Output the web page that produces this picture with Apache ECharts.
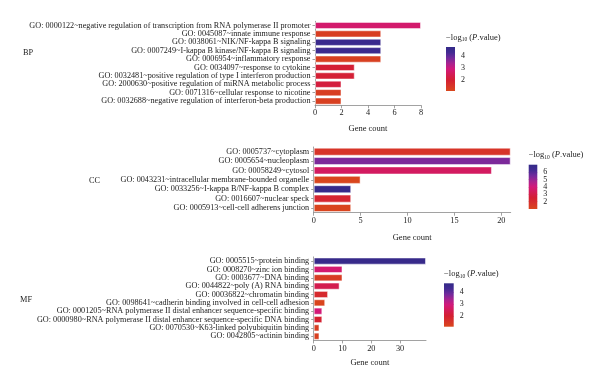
<!DOCTYPE html>
<html>
<head>
<meta charset="utf-8">
<style>html,body{margin:0;padding:0;background:#fff;}#c{width:600px;height:386px;}</style>
<script src="https://cdn.jsdelivr.net/npm/echarts@6/dist/echarts.min.js"></script>
</head>
<body>
<div id="c"></div>
<script>
const bpTerms = [
  'GO: 0000122~negative regulation of transcription from RNA polymerase II promoter',
  'GO: 0045087~innate immune response',
  'GO: 0038061~NIK/NF-kappa B signaling',
  'GO: 0007249~I-kappa B kinase/NF-kappa B signaling',
  'GO: 0006954~inflammatory response',
  'GO: 0034097~response to cytokine',
  'GO: 0032481~positive regulation of type I interferon production',
  'GO: 2000630~positive regulation of miRNA metabolic process',
  'GO: 0071316~cellular response to nicotine',
  'GO: 0032688~negative regulation of interferon-beta production'
];
const bpCounts = [8, 5, 5, 5, 5, 3, 3, 2, 2, 2];
const bpLogP = [2.75, 1.3, 4.55, 4.5, 1.25, 2.05, 2.05, 2.15, 1.3, 1.25];

const ccTerms = [
  'GO: 0005737~cytoplasm',
  'GO: 0005654~nucleoplasm',
  'GO: 00058249~cytosol',
  'GO: 0043231~intracellular membrane-bounded organelle',
  'GO: 0033256~I-kappa B/NF-kappa B complex',
  'GO: 0016607~nuclear speck',
  'GO: 0005913~cell-cell adherens junction'
];
const ccCounts = [21, 21, 19, 5, 4, 4, 4];
const ccLogP = [1.7, 5.4, 3.5, 1.05, 6.9, 2.3, 1.1];

const mfTerms = [
  'GO: 0005515~protein binding',
  'GO: 0008270~zinc ion binding',
  'GO: 0003677~DNA binding',
  'GO: 0044822~poly (A) RNA binding',
  'GO: 00036822~chromatin binding',
  'GO: 0098641~cadherin binding involved in cell-cell adhesion',
  'GO: 0001205~RNA polymerase II distal enhancer sequence-specific binding',
  'GO: 0000980~RNA polymerase II distal enhancer sequence-specific DNA binding',
  'GO: 0070530~K63-linked polyubiquitin binding',
  'GO: 0042805~actinin binding'
];
const mfCounts = [39, 10, 10, 9, 5, 4, 3, 3, 2, 2];
const mfLogP = [4.6, 2.8, 1.4, 2.4, 1.8, 1.2, 2.9, 2.0, 1.35, 1.3];

const bpTicks = [0, 2, 4, 6, 8];
const ccTicks = [0, 5, 10, 15, 20];
const mfTicks = [0, 10, 20, 30];
const bpLegendTicks = [2, 3, 4];
const ccLegendTicks = [2, 3, 4, 5, 6];
const mfLegendTicks = [2, 3, 4];

const palette = ['#d9471c', '#d7332a', '#d41f32', '#d31c55', '#d3197a', '#a8238f', '#722a9c', '#432b93', '#332a88'];

const FONT = 'Liberation Serif';
const panels = [
  {name: 'BP', terms: bpTerms, counts: bpCounts, logp: bpLogP, ticks: bpTicks, max: 8, gap: 19,
   grid: {left: 315, top: 21.3, width: 106, height: 84}, labelPos: [23, 49],
   lg: {left: 446, top: 47, width: 9, height: 44}, lo: 1.1, hi: 4.75, lticks: bpLegendTicks},
  {name: 'CC', terms: ccTerms, counts: ccCounts, logp: ccLogP, ticks: ccTicks, max: 21, gap: 20.5,
   grid: {left: 313.7, top: 147, width: 197, height: 65.7}, labelPos: [89, 177],
   lg: {left: 528.7, top: 164.7, width: 8.6, height: 44.3}, lo: 1.0, hi: 7.05, lticks: ccLegendTicks},
  {name: 'MF', terms: mfTerms, counts: mfCounts, logp: mfLogP, ticks: mfTicks, max: 39, gap: 18,
   grid: {left: 313.7, top: 256.9, width: 112.3, height: 83.5}, labelPos: [20, 296],
   lg: {left: 444, top: 283.3, width: 9.7, height: 43.4}, lo: 1.15, hi: 4.7, lticks: mfLegendTicks}
];

const axisGray = '#8a8a8a';
const grids = [], xAxes = [], yAxes = [], series = [], visualMaps = [], graphics = [];
const gradStops = palette.map((c, i) => ({offset: 1 - i / (palette.length - 1), color: c}));

panels.forEach((p, k) => {
  grids.push(p.grid);
  xAxes.push({
    type: 'value', gridIndex: k, min: 0, max: p.max,
    name: 'Gene count', nameLocation: 'middle', nameGap: p.gap,
    nameTextStyle: {fontFamily: FONT, fontSize: 8.5, color: '#222'},
    axisLine: {show: true, lineStyle: {color: axisGray, width: 0.8}},
    axisTick: {show: true, length: 3, lineStyle: {color: axisGray, width: 0.8}, customValues: p.ticks},
    axisLabel: {fontFamily: FONT, fontSize: 8.3, color: '#222', margin: 4, customValues: p.ticks},
    splitLine: {show: false}
  });
  yAxes.push({
    type: 'category', gridIndex: k, data: p.terms, inverse: true,
    axisLine: {show: true, lineStyle: {color: axisGray, width: 0.8}},
    axisTick: {show: true, length: 2.5, alignWithLabel: true, lineStyle: {color: axisGray, width: 0.8}},
    axisLabel: {fontFamily: FONT, fontSize: 8.2, color: '#222', margin: 4.5, interval: 0},
    splitLine: {show: false}
  });
  series.push({
    type: 'bar', xAxisIndex: k, yAxisIndex: yAxes.length - 1,
    data: p.terms.map((t, i) => [p.counts[i], t, p.logp[i]]),
    encode: {x: 0, y: 1},
    barCategoryGap: '14%',
    itemStyle: {borderColor: 'rgba(255,255,255,0.5)', borderWidth: 1},
    silent: true
  });
  visualMaps.push({
    type: 'continuous', show: false, seriesIndex: series.length - 1, dimension: 2,
    min: p.lo, max: p.hi, inRange: {color: palette}
  });
  graphics.push({
    type: 'text', left: p.labelPos[0], top: p.labelPos[1],
    style: {text: p.name, font: '8.3px "' + FONT + '"', fill: '#222'}
  });
});

// colorbar legends
panels.forEach((p, k) => {
  const gi = grids.length;
  grids.push(p.lg);
  xAxes.push({type: 'category', gridIndex: gi, data: [''], show: false});
  const yl = yAxes.length;
  yAxes.push({
    type: 'value', gridIndex: gi, position: 'left', min: p.lo, max: p.hi,
    name: '{a|\u2212log}{s|10}{a| (}{i|P}{a|.value)}', nameLocation: 'end', nameGap: 4,
    nameTextStyle: {
      align: 'left', verticalAlign: 'bottom', fontFamily: FONT, fontSize: 8.5, color: '#222',
      rich: {
        a: {fontFamily: FONT, fontSize: 8.5, color: '#222', lineHeight: 11},
        i: {fontFamily: FONT, fontSize: 8.5, fontStyle: 'italic', color: '#222', lineHeight: 11},
        s: {fontFamily: FONT, fontSize: 5.5, color: '#222', lineHeight: 11, verticalAlign: 'bottom', padding: [3, 0, 0, 0]}
      }
    },
    axisLine: {show: false},
    axisTick: {show: true, inside: true, length: 2, lineStyle: {color: '#999', width: 0.8}, customValues: p.lticks},
    axisLabel: {show: false},
    splitLine: {show: false}
  });
  // labels split over two right-hand axes so tightly packed labels are not culled
  [0, 1].forEach(par => {
    const vals = p.lticks.filter((v, i) => i % 2 === par);
    yAxes.push({
      type: 'value', gridIndex: gi, position: 'right', min: p.lo, max: p.hi,
      axisLine: {show: false},
      axisTick: {show: true, inside: true, length: 2, lineStyle: {color: '#999', width: 0.8}, customValues: vals},
      axisLabel: {fontFamily: FONT, fontSize: 8, color: '#222', margin: 6, customValues: vals,
                  showMinLabel: true, showMaxLabel: true},
      splitLine: {show: false}
    });
  });
  series.push({
    type: 'bar', xAxisIndex: xAxes.length - 1, yAxisIndex: yl, stack: 'lg' + k,
    data: [p.lo], barWidth: '100%', itemStyle: {color: 'rgba(0,0,0,0)'}, silent: true
  });
  series.push({
    type: 'bar', xAxisIndex: xAxes.length - 1, yAxisIndex: yl, stack: 'lg' + k,
    data: [p.hi - p.lo], barWidth: '100%', silent: true, z: 1,
    itemStyle: {color: new echarts.graphic.LinearGradient(0, 0, 0, 1, gradStops.slice().reverse())}
  });
});

const chart = echarts.init(document.getElementById('c'), null, {renderer: 'canvas'});
chart.setOption({
  backgroundColor: '#fff',
  animation: false,
  grid: grids,
  xAxis: xAxes,
  yAxis: yAxes,
  visualMap: visualMaps,
  series: series,
  graphic: graphics
});
</script>
</body>
</html>
